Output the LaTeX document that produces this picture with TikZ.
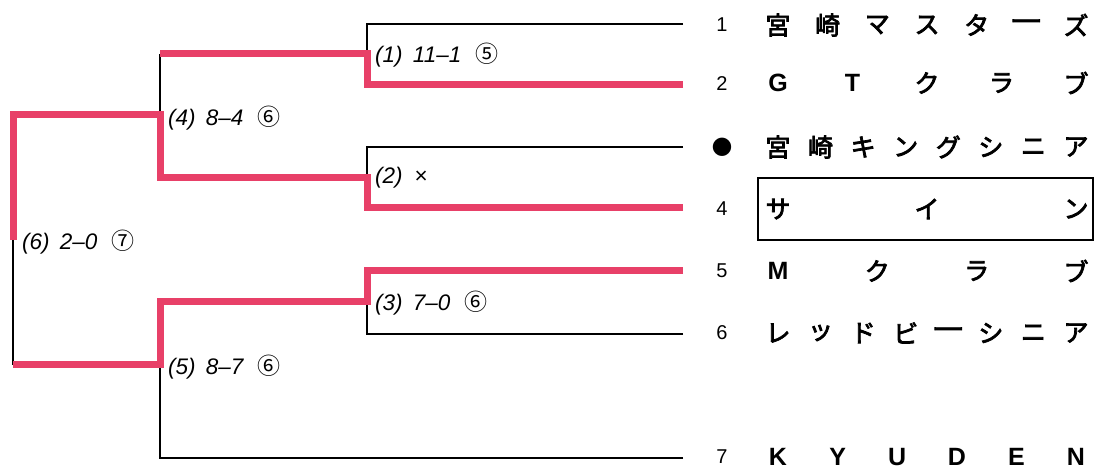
\documentclass[tikz,border=0pt]{standalone}
\usepackage{fontspec}
\newfontfamily\jp{Noto Sans CJK JP}
\newfontfamily\jpn{Noto Sans CJK JP}[FakeBold=3]
\newfontfamily\lab{Liberation Sans}
\newfontfamily\dv{DejaVu Sans}
\definecolor{bred}{RGB}{232,64,104}
\newcommand{\tname}[4]{%
  \foreach \c [count=\i from 0] in {#4}
    \node[namechar] (#1-\i) at ({778+\i*298/(#3-1)}, #2) {\c};}
\newcommand{\lt}[1]{{\lab\bfseries #1}}
\newcommand{\cho}{\raisebox{-2pt}{\scalebox{1.35}[1]{ー}}}
\newcommand{\circnum}[1]{{\jp\upshape\fontsize{23}{23}\selectfont #1}}
\begin{document}
\begin{tikzpicture}[x=1pt,y=-1pt,
  wire/.style={line width=2pt, black},
  win/.style={line width=7pt, bred, line join=miter},
  res/.style={anchor=west, inner sep=0pt, font=\lab\itshape\fontsize{22.5}{22.5}\selectfont},
  num/.style={inner sep=0pt, font=\lab\fontsize{20}{20}\selectfont},
  namechar/.style={inner sep=0pt, font=\jpn\fontsize{25}{25}\selectfont}]
\useasboundingbox (0,0) rectangle (1096,470);
% bracket points
\coordinate (e1) at (683,24);
\coordinate (e2) at (683,85);
\coordinate (e3) at (683,147);
\coordinate (e4) at (683,208);
\coordinate (e5) at (683,271);
\coordinate (e6) at (683,334);
\coordinate (e7) at (683,458);
\coordinate (m1) at (367,54);
\coordinate (m2) at (367,178);
\coordinate (m3) at (367,302);
\coordinate (m4a) at (160,54);
\coordinate (m4) at (160,115);
\coordinate (m4b) at (160,178);
\coordinate (m5a) at (160,302);
\coordinate (m5) at (160,365);
\coordinate (m6a) at (13,115);
\coordinate (m6) at (13,240);
\coordinate (m6b) at (13,365);
% thin lines
\draw[wire] (e1) -| (m1);
\draw[wire] (e3) -| (m2);
\draw[wire] (e6) -| (m3);
\draw[wire] (e7) -| (m5);
\draw[wire] (m4a) -- (m4);
\draw[wire] (m6) -- (m6b);
% winning paths
\draw[win] (e2) -| (m1) -- (m4a);
\draw[win] (e4) -| (m2) -- (m4b) -- (m4) -- (m6a) -- (m6);
\draw[win] (e5) -| (m3) -- (m5a) -- (m5) -- (m6b);
% results
\node[res] (r1) at (375,55) {(1)\hspace{4pt} 11–1\hspace{14pt}\circnum{⑤}};
\node[res] (r2) at (375,178) {(2)\hspace{12pt}{\upshape ×}};
\node[res] (r3) at (375,303) {(3)\hspace{4pt} 7–0\hspace{14pt}\circnum{⑥}};
\node[res] (r4) at (168,118) {(4)\hspace{4pt} 8–4\hspace{14pt}\circnum{⑥}};
\node[res] (r5) at (168,367) {(5)\hspace{4pt} 8–7\hspace{14pt}\circnum{⑥}};
\node[res] (r6) at (22,242) {(6)\hspace{4pt} 2–0\hspace{14pt}\circnum{⑦}};
% numbers
\node[num] (n1) at (722,25) {1};
\node[num] (n2) at (722,84) {2};
\node[num,font=\dv\fontsize{24}{24}\selectfont] (n3) at (722,147) {●};
\node[num] (n4) at (722,209) {4};
\node[num] (n5) at (722,271) {5};
\node[num] (n6) at (722,333) {6};
\node[num] (n7) at (722,457) {7};
% names
\tname{t1}{25}{7}{宮,崎,マ,ス,タ,\cho,ズ}
\tname{t2}{83}{5}{\lt{G},\lt{T},ク,ラ,ブ}
\tname{t3}{147}{8}{宮,崎,キ,ン,グ,シ,ニ,ア}
\tname{t4}{209}{3}{サ,イ,ン}
\tname{t5}{271}{4}{\lt{M},ク,ラ,ブ}
\tname{t6}{333}{8}{レ,ッ,ド,ビ,\cho,シ,ニ,ア}
\tname{t7}{457}{6}{\lt{K},\lt{Y},\lt{U},\lt{D},\lt{E},\lt{N}}
\node[draw, line width=1.6pt, minimum width=335pt, minimum height=62pt, inner sep=0pt] (box4) at (925.5,209) {};
\end{tikzpicture}
\end{document}
